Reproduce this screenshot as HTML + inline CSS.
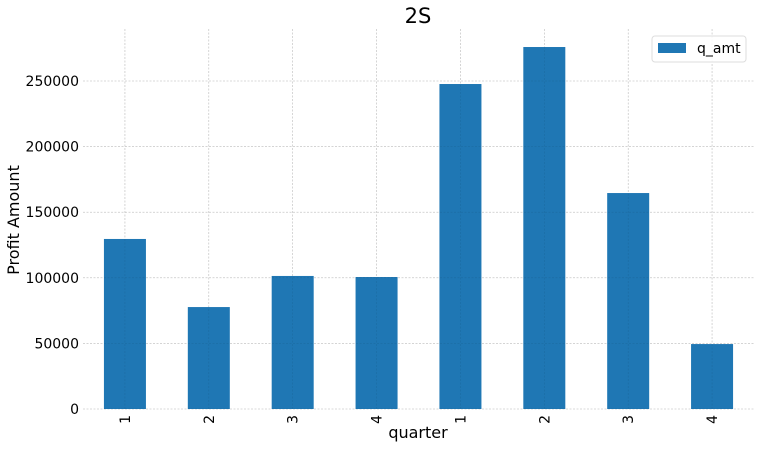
<!DOCTYPE html>
<html><head><meta charset="utf-8"><style>
body{margin:0;background:#fff;font-family:"Liberation Sans","DejaVu Sans",sans-serif;}
svg text{font-family:"DejaVu Sans","Liberation Sans",sans-serif;}
</style></head><body>
<svg id="c" width="759" height="448" xmlns="http://www.w3.org/2000/svg"></svg>
<script>
const categories = ["1","2","3","4","1","2","3","4"];
const values = [129600, 77700, 101400, 100600, 247700, 275900, 164600, 49500];
const yTicks = [0, 50000, 100000, 150000, 200000, 250000];
const seriesName = "q_amt";

const svg = document.getElementById('c');
const NS = 'http://www.w3.org/2000/svg';
const L = 83, R = 754, T = 29, B = 409;
const y = v => B - v / 250000 * 328;
const step = (R - L) / categories.length;
const x = i => L + step * (i + 0.5);
const bw = 42;
function mk(tag, attrs, parent) {
  const e = document.createElementNS(NS, tag);
  for (const k in attrs) e.setAttribute(k, attrs[k]);
  (parent || svg).appendChild(e);
  return e;
}
yTicks.forEach(t => {
  const ln = mk('line', {x1: L, x2: R, y1: y(t), y2: y(t), stroke: '#d0d0d0', 'stroke-width': 0.6, 'stroke-dasharray': '2,1.5'});
  
  
  const tx = mk('text', {x: 79, y: y(t) + 5, 'text-anchor': 'end', 'font-size': 14, fill: '#000'});
  tx.textContent = String(t);
  
  
});
categories.forEach((c, i) => {
  const ln = mk('line', {x1: x(i), x2: x(i), y1: T, y2: B, stroke: '#d0d0d0', 'stroke-width': 0.6, 'stroke-dasharray': '2,1.5'});
  
  
});
categories.forEach((c, i) => {
  const r = mk('rect', {x: x(i) - bw / 2, y: y(values[i]), width: bw, height: B - y(values[i]), fill: '#1f77b4'});
  
  
  const tx = mk('text', {x: 0, y: 0, 'text-anchor': 'end', 'font-size': 14, fill: '#000', transform: `translate(${x(i) + 5},${B + 6}) rotate(-90)`});
  tx.textContent = c;
  
  
});
yTicks.forEach(t => {
  const ln = mk('line', {x1: L, x2: R, y1: y(t), y2: y(t), stroke: '#000', 'stroke-opacity': 0.12, 'stroke-width': 0.5, 'stroke-dasharray': '2,1.5'});
  
  
});
categories.forEach((c, i) => {
  const ln = mk('line', {x1: x(i), x2: x(i), y1: T, y2: B, stroke: '#000', 'stroke-opacity': 0.12, 'stroke-width': 0.5, 'stroke-dasharray': '2,1.5'});
  
  
});
const title = mk('text', {x: 418, y: 23, 'text-anchor': 'middle', 'font-size': 21, fill: '#000'});
title.textContent = '2S';


const xt = mk('text', {x: 418, y: 438, 'text-anchor': 'middle', 'font-size': 16, fill: '#000'});
xt.textContent = 'quarter';


const yt = mk('text', {x: 0, y: 0, 'text-anchor': 'middle', 'font-size': 16, fill: '#000', transform: 'translate(19,220) rotate(-90)'});
yt.textContent = 'Profit Amount';


const lg = mk('g', {});


mk('rect', {x: 652, y: 36, width: 94, height: 26, rx: 3, fill: '#fff', 'fill-opacity': 0.85, stroke: '#ddd'}, lg);
const sw = mk('rect', {x: 658, y: 43, width: 28, height: 10, fill: '#1f77b4'}, lg);


const lt = mk('text', {x: 697, y: 53, 'font-size': 14, fill: '#000'}, lg);
lt.textContent = seriesName;


</script>
</body></html>
